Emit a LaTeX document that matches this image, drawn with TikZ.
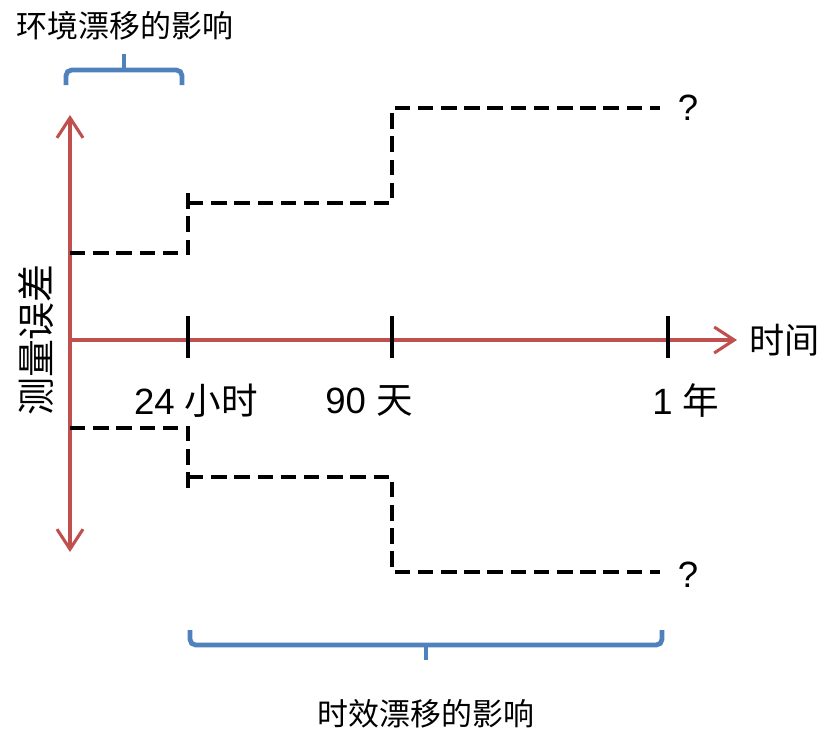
\documentclass[tikz,border=0pt]{standalone}
\usepackage{fontspec}
\setmainfont{Liberation Sans}
\newfontfamily\cjk{Noto Sans CJK SC}
\usetikzlibrary{arrows.meta}

\definecolor{axisred}{RGB}{192,80,77}
\definecolor{braceblue}{RGB}{79,129,189}

\begin{document}
\begin{tikzpicture}[x=0.025cm,y=-0.025cm,
  axis/.style={axisred,line width=2.2pt,>={Straight Barb[length=5mm,width=6.5mm,line width=2.2pt]}},
  tickmark/.style={line width=2.2pt},
  drift/.style={line width=2.8pt,dash pattern=on 11pt off 5.5pt},
  brace/.style={braceblue,line width=3.4pt,rounded corners=4pt},
  lbl/.style={font=\fontsize{26}{30}\selectfont},
  ttl/.style={font=\cjk\fontsize{22}{26}\selectfont}]
\useasboundingbox (0,0) rectangle (822,731);
% axes
\coordinate (o) at (70,340);
\coordinate (ytop) at (70,115);
\coordinate (ybot) at (70,552);
\coordinate (xend) at (737,340);
\draw[axis,<->] (ytop) -- (ybot);
\draw[axis,->] (o) -- (xend);
\node[lbl,anchor=west,inner sep=1pt] (tlabel) at (748,340) {\cjk\fontsize{25}{30}\selectfont 时间};
\node[lbl,rotate=90] (elabel) at (36,340) {\cjk\fontsize{27}{30}\selectfont 测量误差};
% ticks
\foreach \x/\n in {188/day,392/quarter,668/year}
  \draw[tickmark] (\x,316) coordinate (\n) -- (\x,358);
\node[lbl] (daylbl) at (196,401) {24 {\cjk 小时}};
\node[lbl] (quarterlbl) at (369,401) {90 {\cjk 天}};
\node[lbl] (yearlbl) at (686,401) {1 {\cjk 年}};
% upper drift
\draw[drift] (70,253) -| (188,192);
\draw[drift] (188,203) -| (392,108) -- (660,108);
\node[lbl] (qup) at (688,108) {?};
% lower drift
\draw[drift] (70,428) -| (188,488);
\draw[drift] (188,477) -| (392,572) -- (660,572);
\node[lbl] (qdown) at (688,575) {?};
% braces
\draw[brace] (66,85) |- (182,70) -- (182,85);
\draw[braceblue,line width=3.4pt] (124,70) -- (124,54);
\node[ttl] (envlbl) at (125,26) {环境漂移的影响};
\draw[brace] (190,630) |- (662,645) -- (662,630);
\draw[braceblue,line width=3.4pt] (426,645) -- (426,660);
\node[ttl] (agelbl) at (426,714) {时效漂移的影响};
\end{tikzpicture}
\end{document}
